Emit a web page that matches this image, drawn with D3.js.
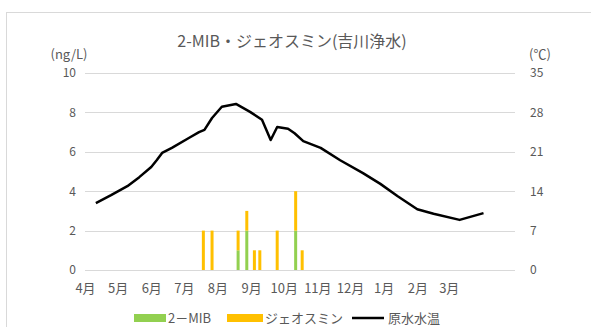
<!DOCTYPE html>
<meta charset="utf-8">
<script src="https://d3js.org/d3.v7.min.js"></script>
<style>
  body { margin: 0; background: #fff; }
  text { font-family: "Noto Sans CJK JP", "Noto Sans", sans-serif; fill: #595959; }
</style>
<div id="chart"></div>
<script>
  // water temperature samples (date, ℃)
  var tempDates = ["2019-04-11","2019-04-25","2019-05-10","2019-05-21","2019-06-01","2019-06-06","2019-06-11","2019-06-20",
    "2019-07-06","2019-07-15","2019-07-20","2019-07-27","2019-08-05","2019-08-18","2019-08-31","2019-09-11","2019-09-19",
    "2019-09-25","2019-10-05","2019-10-11","2019-10-19","2019-11-04","2019-11-22","2019-12-13","2019-12-29","2020-01-14",
    "2020-02-01","2020-02-16","2020-03-11","2020-04-02"];
  var tempValues = [11.9, 13.3, 14.9, 16.5, 18.3, 19.5, 20.8, 21.7,
    23.5, 24.5, 24.9, 27.0, 29.0, 29.5, 28.1, 26.7, 23.1,
    25.4, 25.1, 24.3, 22.9, 21.7, 19.5, 17.2, 15.3, 13.1,
    10.8, 10.0, 8.9, 10.1];

  // odour compound samples (ng/L)
  var barDates = ["2019-07-19","2019-07-27","2019-08-20","2019-08-28","2019-09-04","2019-09-09","2019-09-25","2019-10-12","2019-10-18"];
  var mibValues = [0, 0, 1, 2, 0, 0, 0, 2, 0];
  var geoValues = [2, 2, 1, 1, 1, 1, 2, 2, 1];

  var leftTicks = [0, 2, 4, 6, 8, 10];
  var rightTicks = [0, 7, 14, 21, 28, 35];
  var monthLabels = ["4月","5月","6月","7月","8月","9月","10月","11月","12月","1月","2月","3月"];

  var W = 591, H = 327;
  var svg = d3.select("#chart").append("svg").attr("width", W).attr("height", H);

  // outer chart frame
  svg.append("rect").attr("x", 6.5).attr("y", 12.5).attr("width", 640).attr("height", 360)
    .attr("fill", "none").attr("stroke", "#d9d9d9");

  var parse = d3.timeParse("%Y-%m-%d");
  var x = d3.scaleTime()
    .domain([parse("2019-04-01"), parse("2020-05-01")])
    .range([85, 515]);
  var y = d3.scaleLinear().domain([0, 10]).range([270, 73]);
  var y2 = d3.scaleLinear().domain([0, 35]).range([270, 73]);

  // gridlines
  svg.append("g").selectAll("line").data(leftTicks).join("line")
    .attr("x1", 85).attr("x2", 515)
    .attr("y1", d => Math.round(y(d)) + 0.5).attr("y2", d => Math.round(y(d)) + 0.5)
    .attr("stroke", "#d9d9d9");

  // left axis
  var yAxis = svg.append("g").attr("transform", "translate(76,0)")
    .call(d3.axisLeft(y).tickValues(leftTicks).tickSize(0).tickPadding(0));
  yAxis.select(".domain").remove();
  yAxis.selectAll("text").style("font-size", "12px").attr("fill", "#595959");

  // right axis
  var y2Axis = svg.append("g").attr("transform", "translate(530,0)")
    .call(d3.axisRight(y2).tickValues(rightTicks).tickSize(0).tickPadding(0));
  y2Axis.select(".domain").remove();
  y2Axis.selectAll("text").style("font-size", "12px").attr("fill", "#595959");

  // month labels
  var months = d3.timeMonth.range(parse("2019-04-01"), parse("2020-04-01"));
  var xAxis = svg.append("g").attr("transform", "translate(0,284)")
    .call(d3.axisBottom(x).tickValues(months).tickSize(0).tickPadding(0)
      .tickFormat((d, i) => monthLabels[i]));
  xAxis.select(".domain").remove();
  xAxis.selectAll("text").style("font-size", "13px").attr("fill", "#595959");

  // stacked bars
  var bars = barDates.map((d, i) => ({date: parse(d), mib: mibValues[i], geo: geoValues[i]}));
  var bw = 3;
  svg.append("g").selectAll("rect").data(bars).join("rect")
    .attr("x", d => x(d.date) - bw / 2).attr("width", bw)
    .attr("y", d => y(d.mib)).attr("height", d => y(0) - y(d.mib))
    .attr("fill", "#92d050");
  svg.append("g").selectAll("rect").data(bars).join("rect")
    .attr("x", d => x(d.date) - bw / 2).attr("width", bw)
    .attr("y", d => y(d.mib + d.geo)).attr("height", d => y(d.mib) - y(d.mib + d.geo))
    .attr("fill", "#ffc000");

  // temperature line
  var temps = tempDates.map((d, i) => ({date: parse(d), t: tempValues[i]}));
  svg.append("path").datum(temps)
    .attr("fill", "none").attr("stroke", "#000").attr("stroke-width", 2.5)
    .attr("stroke-linejoin", "round")
    .attr("d", d3.line().x(d => x(d.date)).y(d => y2(d.t)));

  // title and units
  svg.append("text").attr("x", 292).attr("y", 47).attr("text-anchor", "middle")
    .style("font-size", "16px").text("2-MIB・ジェオスミン(吉川浄水)");
  svg.append("text").attr("x", 69).attr("y", 59).attr("text-anchor", "middle")
    .style("font-size", "13px").text("(ng/L)");
  svg.append("text").attr("x", 529).attr("y", 59)
    .style("font-size", "13px").text("(℃)");

  // legend
  var lg = svg.append("g").attr("transform", "translate(0,318)");
  lg.append("rect").attr("x", 134).attr("y", -4).attr("width", 32).attr("height", 8).attr("fill", "#92d050");
  lg.append("text").attr("x", 168).attr("y", 5).style("font-size", "13px").text("2－MIB");
  lg.append("rect").attr("x", 227).attr("y", -4).attr("width", 36).attr("height", 8).attr("fill", "#ffc000");
  lg.append("text").attr("x", 265).attr("y", 5).style("font-size", "13px").text("ジェオスミン");
  lg.append("line").attr("x1", 352).attr("x2", 384).attr("y1", 0).attr("y2", 0)
    .attr("stroke", "#000").attr("stroke-width", 2.5);
  lg.append("text").attr("x", 388).attr("y", 5).style("font-size", "13px").text("原水水温");
</script>
